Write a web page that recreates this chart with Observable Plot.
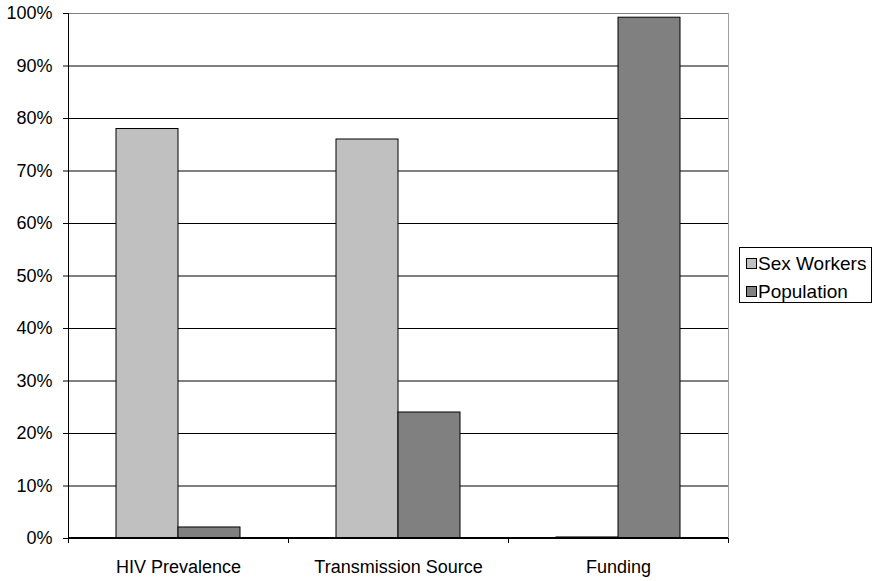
<!DOCTYPE html>
<html>
<head>
<meta charset="utf-8">
<script src="https://cdn.jsdelivr.net/npm/d3@7"></script>
<script src="https://cdn.jsdelivr.net/npm/@observablehq/plot@0.6"></script>
<style>
  html, body { margin: 0; padding: 0; background: #fff; }
  #wrap { position: relative; width: 874px; height: 581px; font-family: "Liberation Sans", Arial, sans-serif; }
  #legend {
    position: absolute; left: 739px; top: 247px; width: 131px; height: 54px;
    border: 1px solid #000; background: #fff; box-sizing: content-box;
  }
  .item { position: absolute; left: 6px; display: flex; align-items: center; font-size: 19px; color: #000; line-height: 1; white-space: nowrap; }
  .sw { width: 9px; height: 9px; border: 1px solid #000; margin-right: 1px; flex: none; }
</style>
</head>
<body>
<div id="wrap"></div>
<script>
// Grouped comparison: share of HIV burden among sex workers vs. general population
const categories = ["HIV Prevalence", "Transmission Source", "Funding"];
const series = ["Sex Workers", "Population"];
const sexWorkers = [0.78, 0.76, 0.002];
const population = [0.021, 0.24, 0.992];
const yTicks = [0, 0.1, 0.2, 0.3, 0.4, 0.5, 0.6, 0.7, 0.8, 0.9, 1.0];
const gridTicks = [0.1, 0.2, 0.3, 0.4, 0.5, 0.6, 0.7, 0.8, 0.9];
const colors = ["#c0c0c0", "#808080"];

const rows = categories.flatMap((c, i) => [
  {category: c, series: series[0], value: sexWorkers[i]},
  {category: c, series: series[1], value: population[i]}
]);

const plot = Plot.plot({
  width: 874,
  height: 581,
  marginLeft: 67,
  marginRight: 145,
  marginTop: 13,
  marginBottom: 43,
  style: {fontFamily: "'Liberation Sans', Arial, sans-serif", fontSize: "18px", color: "#000", background: "#fff"},
  fx: {domain: categories, padding: 0, label: null},
  x: {domain: series, paddingInner: 0, paddingOuter: 0.765, axis: null},
  y: {domain: [0, 1], label: null},
  color: {domain: series, range: colors},
  marks: [
    Plot.ruleY(gridTicks, {stroke: "#000", strokeWidth: 1}),
    Plot.ruleY([1], {stroke: "#808080", strokeWidth: 1}),
    Plot.barY(rows, {fx: "category", x: "series", y: "value", fill: "series", stroke: "#000", strokeWidth: 1}),
    Plot.axisY({ticks: yTicks, tickFormat: d3.format(".0%"), tickSize: 5, tickPadding: 11, label: null, fontSize: 18}),
    Plot.axisFx({anchor: "bottom", tickSize: 0, tickPadding: 22, label: null, fontSize: 18})
  ]
});

document.getElementById("wrap").appendChild(plot);

// Axis lines, plot border and category separator ticks, placed from the plot's scales
const y = plot.scale("y");
const fx = plot.scale("fx");
const y0 = y.apply(0), y1 = y.apply(1);
const left = fx.apply(categories[0]);
const right = fx.apply(categories[categories.length - 1]) + fx.bandwidth;
const svg = d3.select(plot);
const g = svg.append("g").attr("shape-rendering", "crispEdges");
// right border
g.append("line").attr("x1", right).attr("x2", right).attr("y1", y1).attr("y2", y0)
  .attr("stroke", "#a0a0a0").attr("stroke-width", 1);
// baseline
g.append("line").attr("x1", left).attr("x2", right).attr("y1", y0).attr("y2", y0)
  .attr("stroke", "#000").attr("stroke-width", 1.5);
// left axis line
g.append("line").attr("x1", left).attr("x2", left).attr("y1", y1).attr("y2", y0 + 5)
  .attr("stroke", "#000").attr("stroke-width", 1);
// separator ticks between categories
categories.forEach(c => {
  const xr = fx.apply(c) + fx.bandwidth;
  g.append("line").attr("x1", xr).attr("x2", xr).attr("y1", y0).attr("y2", y0 + 5)
    .attr("stroke", "#000").attr("stroke-width", 1);
});

// Legend
const legend = document.createElement("div");
legend.id = "legend";
series.forEach((s, i) => {
  const item = document.createElement("div");
  item.className = "item";
  item.style.top = (6 + i * 28) + "px";
  const sw = document.createElement("span");
  sw.className = "sw";
  sw.style.background = colors[i];
  const label = document.createElement("span");
  label.textContent = s;
  item.appendChild(sw);
  item.appendChild(label);
  legend.appendChild(item);
});
document.getElementById("wrap").appendChild(legend);
</script>
</body>
</html>
